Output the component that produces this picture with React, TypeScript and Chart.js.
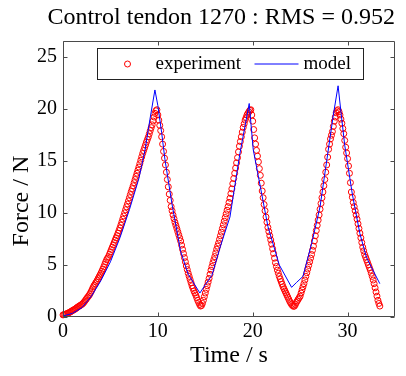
import { useEffect, useRef } from "react";
import { Chart, registerables } from "chart.js";

Chart.register(...registerables);

const TITLE = "Control tendon 1270 : RMS = 0.952";
const X_LABEL = "Time / s";
const Y_LABEL = "Force / N";
const EXP_LABEL = "experiment";
const MODEL_LABEL = "model";
const X_TICKS = [0, 10, 20, 30];
const Y_TICKS = [0, 5, 10, 15, 20, 25];
const X_MIN = 0;
const X_MAX = 35;
const Y_MIN = 0;
const Y_MAX = 26.5;

const expTime = [
  0.0, 0.1, 0.2, 0.3, 0.4, 0.5, 0.6, 0.7, 0.8, 0.9, 1.0, 1.1, 1.2, 1.3, 1.4, 1.5, 1.6, 1.7, 1.8, 1.9,
  2.0, 2.1, 2.2, 2.3, 2.4, 2.5, 2.6, 2.7, 2.8, 2.9, 3.0, 3.1, 3.2, 3.3, 3.4, 3.5, 3.6, 3.7, 3.8, 3.9,
  4.0, 4.1, 4.2, 4.3, 4.4, 4.5, 4.6, 4.7, 4.8, 4.9, 5.0, 5.1, 5.2, 5.3, 5.4, 5.5, 5.6, 5.7, 5.8, 5.9,
  6.0, 6.1, 6.2, 6.3, 6.4, 6.5, 6.6, 6.7, 6.8, 6.9, 7.0, 7.1, 7.2, 7.3, 7.4, 7.5, 7.6, 7.7, 7.8, 7.9,
  8.0, 8.1, 8.2, 8.3, 8.4, 8.5, 8.6, 8.7, 8.8, 8.9, 9.0, 9.1, 9.2, 9.3, 9.4, 9.5, 9.6, 9.7, 9.8, 9.9,
  10.0, 10.1, 10.2, 10.3, 10.4, 10.5, 10.6, 10.7, 10.8, 10.9, 11.0, 11.1, 11.2, 11.3, 11.4, 11.5, 11.6, 11.7, 11.8, 11.9,
  12.0, 12.1, 12.2, 12.3, 12.4, 12.5, 12.6, 12.7, 12.8, 12.9, 13.0, 13.1, 13.2, 13.3, 13.4, 13.5, 13.6, 13.7, 13.8, 13.9,
  14.0, 14.1, 14.2, 14.3, 14.4, 14.5, 14.6, 14.7, 14.8, 14.9, 15.0, 15.1, 15.2, 15.3, 15.4, 15.5, 15.6, 15.7, 15.8, 15.9,
  16.0, 16.1, 16.2, 16.3, 16.4, 16.5, 16.6, 16.7, 16.8, 16.9, 17.0, 17.1, 17.2, 17.3, 17.4, 17.5, 17.6, 17.7, 17.8, 17.9,
  18.0, 18.1, 18.2, 18.3, 18.4, 18.5, 18.6, 18.7, 18.8, 18.9, 19.0, 19.1, 19.2, 19.3, 19.4, 19.5, 19.6, 19.7, 19.8, 19.9,
  20.0, 20.1, 20.2, 20.3, 20.4, 20.5, 20.6, 20.7, 20.8, 20.9, 21.0, 21.1, 21.2, 21.3, 21.4, 21.5, 21.6, 21.7, 21.8, 21.9,
  22.0, 22.1, 22.2, 22.3, 22.4, 22.5, 22.6, 22.7, 22.8, 22.9, 23.0, 23.1, 23.2, 23.3, 23.4, 23.5, 23.6, 23.7, 23.8, 23.9,
  24.0, 24.1, 24.2, 24.3, 24.4, 24.5, 24.6, 24.7, 24.8, 24.9, 25.0, 25.1, 25.2, 25.3, 25.4, 25.5, 25.6, 25.7, 25.8, 25.9,
  26.0, 26.1, 26.2, 26.3, 26.4, 26.5, 26.6, 26.7, 26.8, 26.9, 27.0, 27.1, 27.2, 27.3, 27.4, 27.5, 27.6, 27.7, 27.8, 27.9,
  28.0, 28.1, 28.2, 28.3, 28.4, 28.5, 28.6, 28.7, 28.8, 28.9, 29.0, 29.1, 29.2, 29.3, 29.4, 29.5, 29.6, 29.7, 29.8, 29.9,
  30.0, 30.1, 30.2, 30.3, 30.4, 30.5, 30.6, 30.7, 30.8, 30.9, 31.0, 31.1, 31.2, 31.3, 31.4, 31.5, 31.6, 31.7, 31.8, 31.9,
  32.0, 32.1, 32.2, 32.3, 32.4, 32.5, 32.6, 32.7, 32.8, 32.9, 33.0, 33.1, 33.2, 33.3, 33.4,
];
const expForce = [
  0.2, 0.22, 0.25, 0.28, 0.32, 0.36, 0.4, 0.45, 0.5, 0.56, 0.62, 0.67, 0.72, 0.78, 0.85, 0.92, 0.98, 1.04, 1.1, 1.16,
  1.22, 1.3, 1.4, 1.52, 1.65, 1.78, 1.9, 2.02, 2.15, 2.32, 2.5, 2.7, 2.9, 3.05, 3.2, 3.35, 3.5, 3.68, 3.85, 4.02,
  4.2, 4.4, 4.6, 4.82, 5.05, 5.28, 5.5, 5.65, 5.8, 6.02, 6.25, 6.48, 6.7, 6.92, 7.15, 7.38, 7.6, 7.82, 8.05, 8.3,
  8.55, 8.82, 9.1, 9.4, 9.7, 10.0, 10.3, 10.58, 10.85, 11.15, 11.45, 11.75, 12.05, 12.32, 12.6, 12.9, 13.2, 13.5, 13.8, 14.1,
  14.4, 14.72, 15.05, 15.38, 15.7, 15.98, 16.25, 16.52, 16.8, 17.05, 17.3, 17.6, 17.9, 18.18, 18.45, 18.82, 19.2, 19.55, 19.8, 19.9,
  19.4, 18.9, 18.4, 17.9, 17.3, 16.6, 15.9, 15.25, 14.6, 13.9, 13.2, 12.5, 11.8, 11.2, 10.6, 10.2, 9.8, 9.45, 9.1, 8.8,
  8.5, 8.2, 7.9, 7.6, 7.3, 6.9, 6.5, 6.1, 5.7, 5.3, 4.9, 4.55, 4.2, 3.9, 3.6, 3.3, 3.0, 2.75, 2.5, 2.3,
  2.1, 1.85, 1.6, 1.4, 1.2, 1.05, 1.1, 1.3, 1.6, 1.95, 2.3, 2.65, 3.0, 3.35, 3.7, 4.1, 4.5, 4.85, 5.2, 5.5,
  5.8, 6.15, 6.5, 6.8, 7.1, 7.45, 7.8, 8.15, 8.5, 8.85, 9.2, 9.55, 9.9, 10.25, 10.6, 11.0, 11.4, 11.85, 12.3, 12.8,
  13.3, 13.8, 14.3, 14.8, 15.3, 15.85, 16.4, 16.85, 17.3, 17.75, 18.2, 18.55, 18.9, 19.15, 19.4, 19.55, 19.7, 19.85, 19.9, 19.4,
  18.8, 18.0, 17.2, 16.6, 16.0, 15.45, 14.9, 14.25, 13.6, 12.85, 12.1, 11.45, 10.8, 10.2, 9.6, 9.1, 8.6, 8.2, 7.8, 7.4,
  7.0, 6.55, 6.1, 5.65, 5.2, 4.85, 4.5, 4.2, 3.9, 3.65, 3.4, 3.15, 2.9, 2.7, 2.5, 2.3, 2.1, 1.9, 1.7, 1.5,
  1.35, 1.2, 1.1, 1.02, 1.05, 1.2, 1.4, 1.55, 1.7, 1.85, 2.0, 2.3, 2.6, 2.9, 3.2, 3.55, 3.9, 4.25, 4.6, 4.95,
  5.3, 5.65, 6.0, 6.4, 6.8, 7.3, 7.8, 8.3, 8.8, 9.3, 9.8, 10.35, 10.9, 11.45, 12.0, 12.6, 13.2, 13.9, 14.6, 15.35,
  16.1, 16.6, 17.1, 17.45, 17.8, 18.3, 18.8, 19.2, 19.6, 19.8, 19.9, 19.7, 19.4, 19.0, 18.6, 18.1, 17.6, 16.95, 16.3, 15.75,
  15.2, 14.5, 13.8, 12.9, 12.0, 11.5, 11.0, 10.6, 10.2, 9.8, 9.4, 8.95, 8.5, 8.05, 7.6, 7.15, 6.7, 6.35, 6.0, 5.75,
  5.5, 5.25, 5.0, 4.75, 4.5, 4.2, 3.9, 3.55, 3.2, 2.8, 2.4, 2.0, 1.6, 1.3, 1.05,
];

const modelTime = [
  0, 1, 2, 3, 4, 5, 6, 7, 8, 8.64, 9.17, 9.69, 10.0, 10.4, 10.75, 11.5, 12.4, 13.2, 14.43, 15.0,
  15.7, 16.6, 17.6, 18.65, 19.63, 20.05, 21.6, 22.8, 24.1, 24.6, 25.3, 26.2, 27.1, 28.5, 29.0, 29.3, 29.7, 30.5,
  31.3, 32.0, 33.4,
];
const modelForce = [
  0.1, 0.35, 0.9, 2.0, 3.5, 5.3, 7.6, 10.3, 13.3, 16.0, 19.0, 21.8, 20.3, 17.7, 15.1, 10.8, 6.3, 4.1, 2.3, 3.1,
  4.0, 6.8, 9.6, 15.7, 20.5, 16.1, 8.7, 5.0, 2.85, 3.3, 3.9, 7.0, 10.6, 19.4, 22.2, 19.7, 16.5, 11.8,
  8.0, 5.7, 3.2,
];

const FONT = "'Liberation Serif', 'Times New Roman', Times, serif";
const AXIS_COLOR = "#4a4a4a";

const framePlugin = {
  id: "matlabFrame",
  afterDatasetsDraw(chart: any) {
    const { ctx, chartArea, scales } = chart;
    const l = Math.round(chartArea.left) + 0.5;
    const r = Math.round(chartArea.right) - 0.5;
    const t = Math.round(chartArea.top) + 0.5;
    const b = Math.round(chartArea.bottom) - 0.5;
    const tl = 4;
    ctx.save();
    ctx.strokeStyle = AXIS_COLOR;
    ctx.lineWidth = 1;
    ctx.beginPath();
    ctx.rect(l, t, r - l, b - t);
    scales.x.ticks.forEach((tk: any) => {
      const px = Math.round(scales.x.getPixelForValue(tk.value)) + 0.5;
      ctx.moveTo(px, b);
      ctx.lineTo(px, b - tl);
      ctx.moveTo(px, t);
      ctx.lineTo(px, t + tl);
    });
    scales.y.ticks.forEach((tk: any) => {
      const py = Math.round(scales.y.getPixelForValue(tk.value)) + 0.5;
      ctx.moveTo(l, py);
      ctx.lineTo(l + tl, py);
      ctx.moveTo(r, py);
      ctx.lineTo(r - tl, py);
    });
    ctx.stroke();

    // y-axis title (placed as in the reference, slightly below the axis centre)
    ctx.fillStyle = "#000000";
    ctx.font = `24px ${FONT}`;
    ctx.textAlign = "center";
    ctx.textBaseline = "middle";
    ctx.translate(22, chartArea.top + (chartArea.bottom - chartArea.top) * 0.58);
    ctx.rotate(-Math.PI / 2);
    ctx.fillText(Y_LABEL, 0, 0);
    ctx.restore();
  },
};

const legendPlugin = {
  id: "boxedLegend",
  afterDraw(chart: any) {
    const { ctx, chartArea, data } = chart;
    const bx = Math.round(chartArea.left) + 34.5;
    const by = Math.round(chartArea.top) + 7.5;
    const bw = 266;
    const bh = 31;
    const cy = by + bh / 2;
    const [expDs, modelDs] = data.datasets;
    ctx.save();
    ctx.fillStyle = "#ffffff";
    ctx.fillRect(bx, by, bw, bh);
    ctx.strokeStyle = "#222222";
    ctx.lineWidth = 1;
    ctx.strokeRect(bx, by, bw, bh);
    ctx.strokeStyle = expDs.borderColor;
    ctx.beginPath();
    ctx.arc(bx + 30, cy, 3, 0, Math.PI * 2);
    ctx.stroke();
    ctx.strokeStyle = modelDs.borderColor;
    ctx.beginPath();
    ctx.moveTo(bx + 157, cy);
    ctx.lineTo(bx + 201, cy);
    ctx.stroke();
    ctx.fillStyle = "#000000";
    ctx.font = `19px ${FONT}`;
    ctx.textBaseline = "middle";
    ctx.textAlign = "left";
    ctx.fillText(expDs.label, bx + 58, cy);
    ctx.fillText(modelDs.label, bx + 206, cy);
    ctx.restore();
  },
};

export default function App() {
  const canvasRef = useRef<HTMLCanvasElement | null>(null);

  useEffect(() => {
    const canvas = canvasRef.current;
    if (!canvas) return;
    const expPoints = expTime.map((t, i) => ({ x: t, y: expForce[i] }));
    const modelPoints = modelTime.map((t, i) => ({ x: t, y: modelForce[i] }));
    const chart = new Chart(canvas, {
      type: "scatter",
      data: {
        datasets: [
          {
            label: EXP_LABEL,
            data: expPoints,
            showLine: false,
            pointStyle: "circle",
            pointRadius: 3,
            pointBorderWidth: 1,
            borderColor: "#ff0000",
            pointBorderColor: "#ff0000",
            backgroundColor: "rgba(0,0,0,0)",
            pointBackgroundColor: "rgba(0,0,0,0)",
            clip: false as any,
            order: 2,
          },
          {
            label: MODEL_LABEL,
            data: modelPoints,
            showLine: true,
            pointRadius: 0,
            borderWidth: 1,
            borderColor: "#0000ff",
            backgroundColor: "#0000ff",
            tension: 0,
            clip: false as any,
            order: 1,
          },
        ],
      },
      options: {
        responsive: false,
        animation: false,
        devicePixelRatio: 1,
        layout: { padding: { left: 0, right: 11, top: 0, bottom: 0 } },
        plugins: {
          legend: { display: false },
          tooltip: { enabled: false },
          title: {
            display: true,
            text: TITLE,
            fullSize: true,
            align: "end",
            color: "#000000",
            font: { family: FONT, size: 24, weight: "normal" },
            padding: { top: 3, bottom: 9.2 },
          },
        },
        scales: {
          x: {
            type: "linear",
            min: X_MIN,
            max: X_MAX,
            afterBuildTicks: (s: any) => {
              s.ticks = X_TICKS.map((v) => ({ value: v }));
            },
            afterFit: (s: any) => {
              s.height = 59;
            },
            grid: { display: false, drawTicks: false },
            border: { display: false },
            ticks: {
              color: "#000000",
              font: { family: FONT, size: 20 },
              padding: 3,
              maxRotation: 0,
              autoSkip: false,
            },
            title: {
              display: true,
              text: X_LABEL,
              color: "#000000",
              font: { family: FONT, size: 24 },
              padding: { top: 0, bottom: 5.6 },
            },
          },
          y: {
            type: "linear",
            min: Y_MIN,
            max: Y_MAX,
            afterBuildTicks: (s: any) => {
              s.ticks = Y_TICKS.map((v) => ({ value: v }));
            },
            afterFit: (s: any) => {
              s.width = 63;
            },
            grid: { display: false, drawTicks: false },
            border: { display: false },
            ticks: {
              color: "#000000",
              font: { family: FONT, size: 20 },
              padding: 6,
              autoSkip: false,
            },
            title: { display: false, text: Y_LABEL },
          },
        },
      },
      plugins: [framePlugin, legendPlugin],
    });
    return () => chart.destroy();
  }, []);

  return (
    <div style={{ position: "absolute", left: 0, top: 0, width: 406, height: 376, background: "#ffffff" }}>
      <canvas ref={canvasRef} width={406} height={376} />
    </div>
  );
}
